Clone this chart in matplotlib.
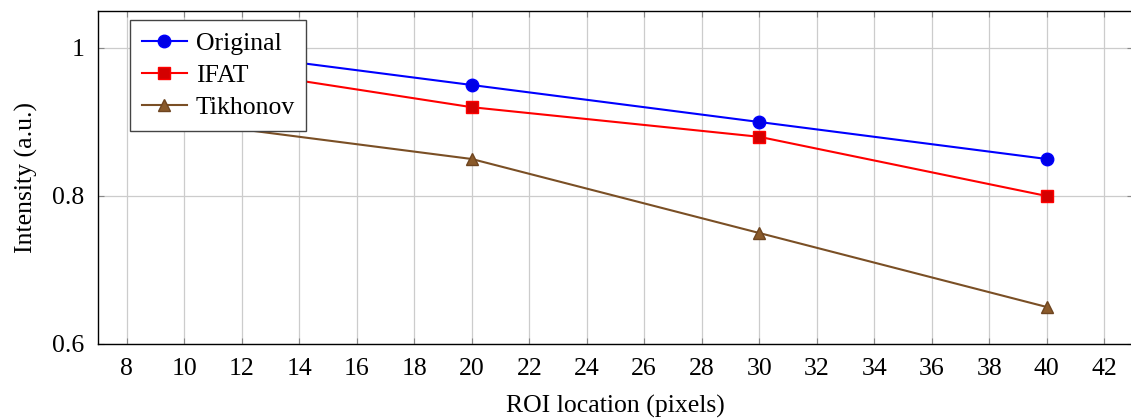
import numpy as np
import matplotlib
matplotlib.use("Agg")
import matplotlib.pyplot as plt

# Data
roi_location = [10, 20, 30, 40]
original = [1.00, 0.95, 0.90, 0.85]
ifat = [0.98, 0.92, 0.88, 0.80]
tikhonov = [0.90, 0.85, 0.75, 0.65]

x_ticks = list(range(8, 43, 2))
y_ticks = [0.6, 0.8, 1.0]
y_tick_labels = ["0.6", "0.8", "1"]

plt.rcParams['font.family'] = ['Liberation Serif', 'DejaVu Serif']
plt.rcParams['font.size'] = 18.5

W, H = 1131, 418
fig = plt.figure(figsize=(W / 100, H / 100), dpi=100)
ax = fig.add_axes([98 / W, (H - 344) / H, (1133 - 98) / W, (344 - 11) / H])

ax.plot(roi_location, original, color='#0000ff', lw=1.5, marker='o', ms=9,
        mfc='#0000e6', mec='#0000ff', label='Original', zorder=3)
ax.plot(roi_location, ifat, color='#ff0000', lw=1.5, marker='s', ms=9,
        mfc='#d40000', mec='#ff0000', label='IFAT', zorder=3)
ax.plot(roi_location, tikhonov, color='#7a4f25', lw=1.5, marker='^', ms=9,
        mfc='#8a5a2a', mec='#6e4520', label='Tikhonov', zorder=3)

ax.set_xlim(7, 43)
ax.set_ylim(0.6, 1.05)
ax.set_xticks(x_ticks)
ax.set_yticks(y_ticks)
ax.set_yticklabels(y_tick_labels)

ax.grid(True, color='#cccccc', lw=0.9)
ax.set_axisbelow(True)
ax.tick_params(direction='in', length=4, width=0.8, color='#888888',
               top=True, right=True, labelsize=18.5)
ax.tick_params(axis='x', pad=10)
ax.tick_params(axis='y', pad=10)

for sp in ax.spines.values():
    sp.set_linewidth(1.0)
    sp.set_color('black')

ax.set_xlabel('ROI location (pixels)', fontsize=18.5, labelpad=11)
ax.set_ylabel('Intensity (a.u.)', fontsize=18.5, labelpad=10)

leg = ax.legend(loc='upper left', bbox_to_anchor=(0.031, 0.973), fontsize=18.5,
                fancybox=False, framealpha=1, edgecolor='#444444',
                borderpad=0.45, labelspacing=0.36, handlelength=1.75,
                handletextpad=0.35, borderaxespad=0)
leg.get_frame().set_linewidth(1.0)
leg.set_zorder(5)

fig.savefig('out.png', dpi=100)
